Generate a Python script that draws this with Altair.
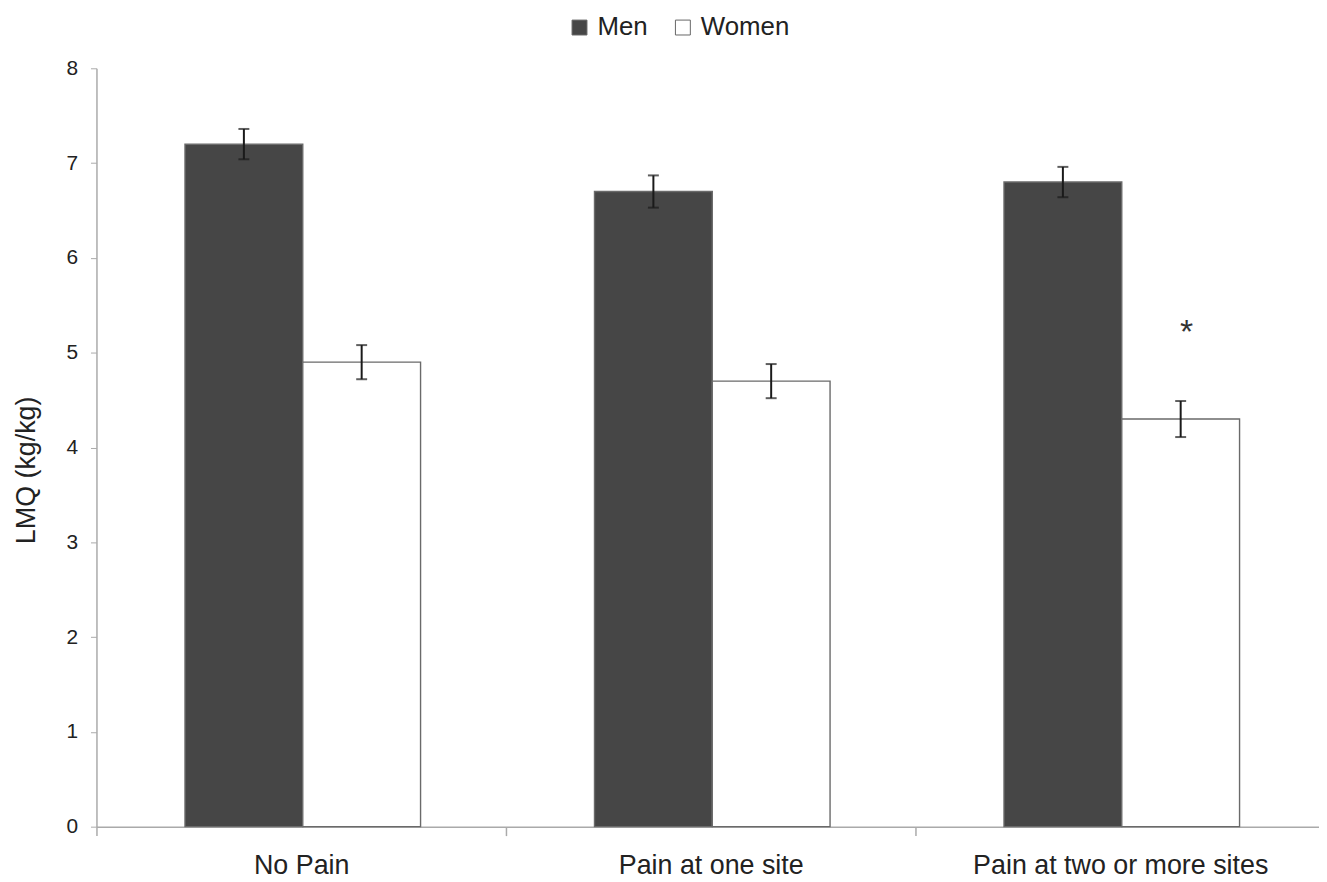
import altair as alt
import pandas as pd

categories = ["No Pain", "Pain at one site", "Pain at two or more sites"]
groups = ["Men", "Women"]
men_values = [7.2, 6.7, 6.8]
women_values = [4.9, 4.7, 4.3]
men_err = [0.16, 0.17, 0.16]
women_err = [0.18, 0.18, 0.19]
star_category = "Pain at two or more sites"
star_group = "Women"
star_value = 5.26

rows = []
for c, mv, me, wv, we in zip(categories, men_values, men_err, women_values, women_err):
    rows.append({"category": c, "sex": "Men", "value": mv, "lo": mv - me, "hi": mv + me})
    rows.append({"category": c, "sex": "Women", "value": wv, "lo": wv - we, "hi": wv + we})
df = pd.DataFrame(rows)

caps = pd.concat([
    df[["category", "sex", "lo"]].rename(columns={"lo": "value"}),
    df[["category", "sex", "hi"]].rename(columns={"hi": "value"}),
])

star_df = pd.DataFrame([{"category": star_category, "sex": star_group, "value": star_value, "t": "*"}])

FONT = "Liberation Sans"

x_scale = alt.Scale(domain=categories, range=[0, 1236], paddingInner=0, paddingOuter=0)
xo_scale = alt.Scale(domain=groups, paddingInner=0, paddingOuter=0.7384, align=0.509)
y_scale = alt.Scale(domain=[0, 8], nice=False)

x_axis = alt.Axis(
    title=None, labelAngle=0, labelFontSize=27, labelColor="#222222", labelFont=FONT,
    labelLimit=0, tickBand="extent", tickSize=9, tickColor="#aaaaaa", domainColor="#aaaaaa",
    labelPadding=17, domainWidth=1.5, tickWidth=1.5,
)
y_axis = alt.Axis(
    values=list(range(9)), format="d", title="LMQ (kg/kg)", grid=False,
    labelFontSize=21, labelColor="#222222", labelFont=FONT,
    tickSize=6, labelPadding=13, tickColor="#aaaaaa", domainColor="#aaaaaa", domainWidth=1.5,
    titleFontSize=27, titleFont=FONT, titleFontWeight="normal", titleColor="#222222",
    titleX=-62, titleY=404, titleBaseline="alphabetic",
)

def X():
    return alt.X("category:N", sort=categories, scale=x_scale, axis=x_axis)

def XO():
    return alt.XOffset("sex:N", sort=groups, scale=xo_scale)

def Y(field="value:Q"):
    return alt.Y(field, scale=y_scale, axis=y_axis, title="LMQ (kg/kg)")

bars = alt.Chart(df).mark_bar(stroke="#6a6a6a", strokeWidth=1.4).encode(
    x=X(),
    xOffset=XO(),
    y=Y(),
    fill=alt.Fill(
        "sex:N",
        sort=groups,
        scale=alt.Scale(domain=groups, range=["#464646", "#ffffff"]),
        legend=alt.Legend(
            title=None, orient="none", legendX=473, legendY=-54, direction="horizontal",
            symbolType="square", symbolSize=225, symbolStrokeColor="#666666", symbolStrokeWidth=1,
            labelFontSize=26, labelFont=FONT, labelColor="#222222", labelOffset=5,
            columnPadding=22,
        ),
    ),
)

rules = alt.Chart(df).mark_rule(color="#1a1a1a", strokeWidth=2).encode(
    x=X(),
    xOffset=XO(),
    y=Y("lo:Q"),
    y2="hi:Q",
)

cap_marks = alt.Chart(caps).mark_tick(color="#1a1a1a", thickness=2, size=11).encode(
    x=X(),
    xOffset=XO(),
    y=Y(),
)

star = alt.Chart(star_df).mark_text(fontSize=34, font=FONT, color="#333333", baseline="middle", dx=6, dy=5).encode(
    x=X(),
    xOffset=XO(),
    y=Y(),
    text="t:N",
)

chart = alt.layer(bars, rules, cap_marks, star).properties(
    width=1230,
    height=763,
    padding={"left": 89, "top": 58, "right": 0, "bottom": 50},
    autosize=alt.AutoSizeParams(type="none"),
    background="white",
).configure_view(stroke=None)

chart.save("out.html", embed_options={"renderer": "svg", "actions": False})
